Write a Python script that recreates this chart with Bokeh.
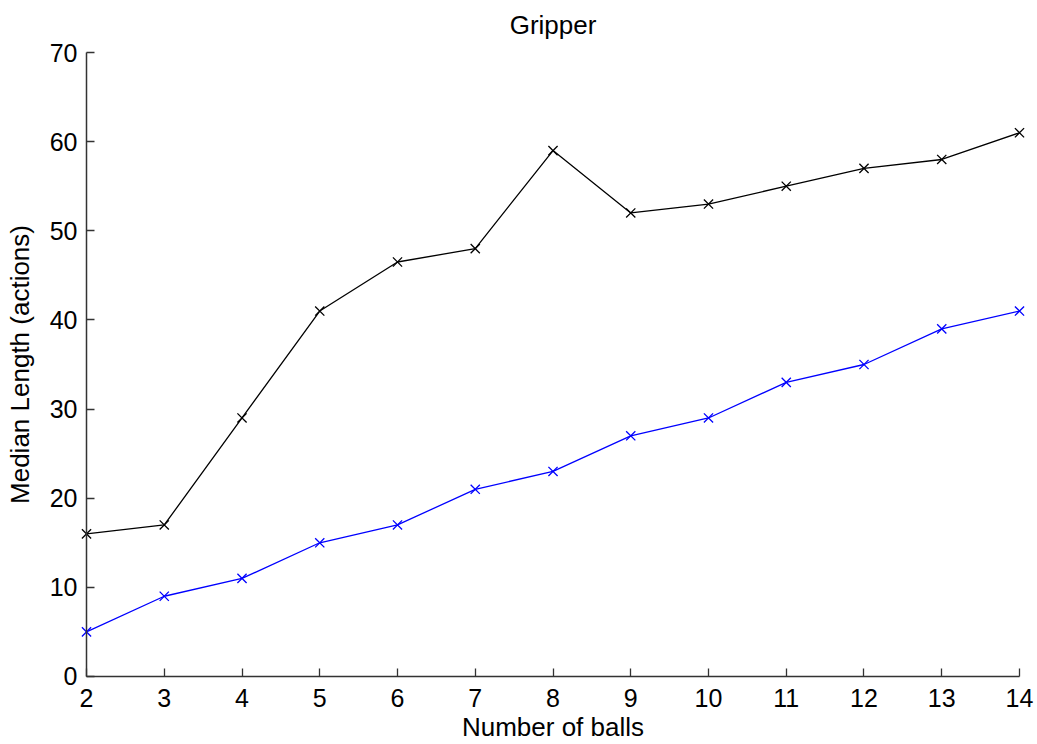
from bokeh.plotting import figure
from bokeh.models import Range1d, FixedTicker, LinearAxis
from bokeh.embed import file_html
from bokeh.resources import INLINE

balls = [2, 3, 4, 5, 6, 7, 8, 9, 10, 11, 12, 13, 14]
series_black = [16, 17, 29, 41, 46.5, 48, 59, 52, 53, 55, 57, 58, 61]
series_blue = [5, 9, 11, 15, 17, 21, 23, 27, 29, 33, 35, 39, 41]
x_ticks = list(range(2, 15))
y_ticks = [0, 10, 20, 30, 40, 50, 60, 70]

FONT = "Liberation Sans"
XMIN, XMAX = 2, 14
YMIN, YMAX = 0, 70
DX, DY = 0.103, 0.9

p = figure(width=1037, height=744, output_backend="svg", toolbar_location=None,
           x_range=Range1d(XMIN - DX, XMAX + DX), y_range=Range1d(YMIN - DY, YMAX + DY),
           min_border_left=78, min_border_right=10, min_border_top=44, min_border_bottom=60)

p.title.text = "Gripper"
p.title.align = "center"
p.title.text_font = FONT
p.title.text_font_size = "26px"
p.title.text_font_style = "normal"
p.title.text_color = "black"

p.line(balls, series_black, color="black", line_width=1.3)
p.scatter(balls, series_black, marker="x", size=13, line_color="black", line_width=1.3)
p.line(balls, series_blue, color="#0000ff", line_width=1.3)
p.scatter(balls, series_blue, marker="x", size=13, line_color="#0000ff", line_width=1.3)

p.xgrid.visible = False
p.ygrid.visible = False
p.outline_line_color = None

# label-only axes at the frame edges
for ax in (p.xaxis[0], p.yaxis[0]):
    ax.axis_line_color = None
    ax.major_tick_line_color = None
    ax.minor_tick_line_color = None
    ax.major_tick_in = 0
    ax.major_tick_out = 0
    ax.minor_tick_in = 0
    ax.minor_tick_out = 0
    ax.major_label_text_font = FONT
    ax.major_label_text_font_size = "25px"
    ax.major_label_text_color = "black"
    ax.axis_label_text_font = FONT
    ax.axis_label_text_font_size = "26px"
    ax.axis_label_text_font_style = "normal"
    ax.axis_label_text_color = "black"
p.xaxis.ticker = FixedTicker(ticks=x_ticks)
p.yaxis.ticker = FixedTicker(ticks=y_ticks)
p.xaxis.axis_label = "Number of balls"
p.yaxis.axis_label = "Median Length (actions)"
p.xaxis.major_label_standoff = 4
p.yaxis.major_label_standoff = 1
p.xaxis.axis_label_standoff = 2
p.yaxis.axis_label_standoff = 12

# line + inward ticks axes anchored at the data origin
def line_axis(ticks, loc, bounds):
    a = LinearAxis(ticker=FixedTicker(ticks=ticks), bounds=bounds, fixed_location=loc)
    a.major_tick_in = 8
    a.major_tick_out = 0
    a.minor_tick_in = 0
    a.minor_tick_out = 0
    a.axis_line_color = "#333333"
    a.axis_line_width = 1.5
    a.major_tick_line_color = "#333333"
    a.major_tick_line_width = 1.3
    a.major_label_text_font_size = "0px"
    a.major_label_text_alpha = 0
    a.major_label_standoff = 0
    return a

p.add_layout(line_axis(y_ticks, XMIN, (YMIN, YMAX)), "left")
p.add_layout(line_axis(x_ticks, YMIN, (XMIN, XMAX)), "below")

open("out.html", "w").write(file_html(p, INLINE))
